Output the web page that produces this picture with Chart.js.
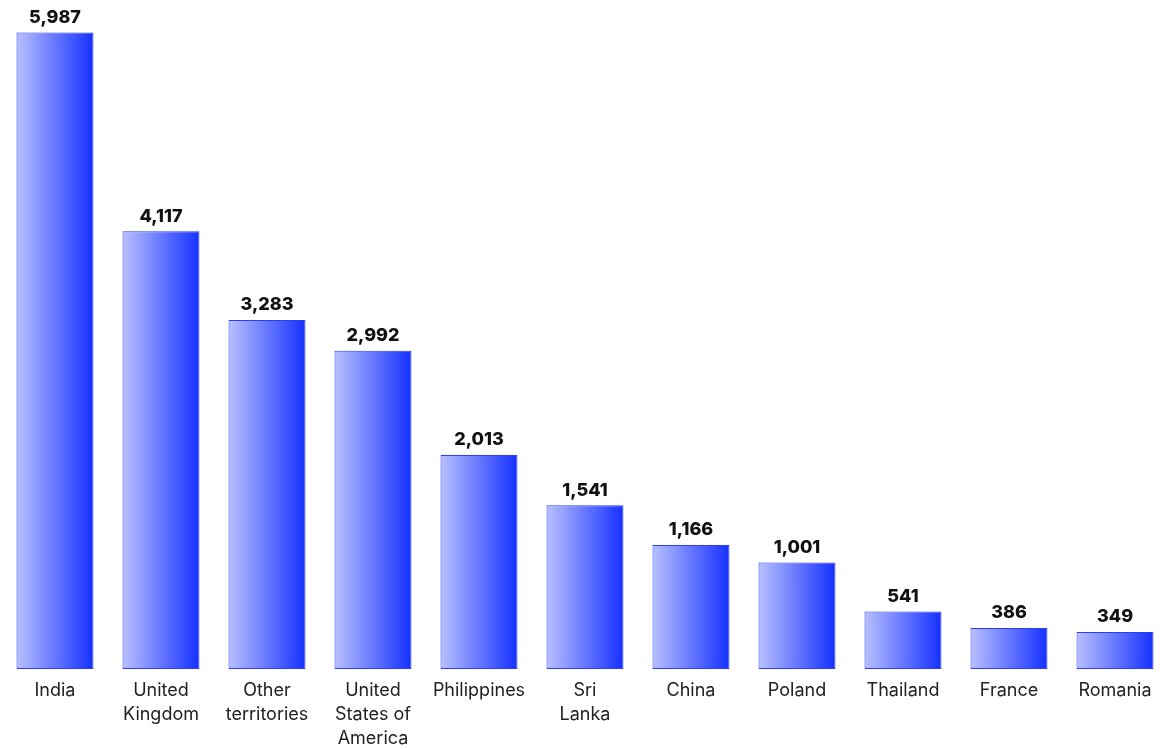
<!DOCTYPE html>
<html>
<head>
<meta charset="utf-8">
<script src="https://cdn.jsdelivr.net/npm/chart.js@4"></script>
<style>
  body { margin: 0; background: #fff; }
  #wrap { width: 1169px; height: 749px; }
</style>
</head>
<body>
<div id="wrap"><canvas id="chart"></canvas></div>
<script>
// Countries (multi-line tick labels)
const countries = [
    ['India'],
    ['United', 'Kingdom'],
    ['Other', 'territories'],
    ['United', 'States of', 'America'],
    ['Philippines'],
    ['Sri', 'Lanka'],
    ['China'],
    ['Poland'],
    ['Thailand'],
    ['France'],
    ['Romania']
];
const counts = [5987, 4117, 3283, 2992, 2013, 1541, 1166, 1001, 541, 386, 349];

const BAR_PCT = 0.726;

// Horizontal gradient per bar
function barGradient(context) {
    const chart = context.chart;
    const xs = chart.scales.x;
    if (!xs || !chart.chartArea) return '#4a5cff';
    const step = xs.width / countries.length;
    const center = xs.getPixelForValue(context.dataIndex);
    const half = step * BAR_PCT / 2;
    const g = chart.ctx.createLinearGradient(center - half, 0, center + half, 0);
    g.addColorStop(0, '#b8c0ff');
    g.addColorStop(1, '#1530ff');
    return g;
}

// Value labels above bars
const valueLabels = {
    id: 'valueLabels',
    afterDatasetsDraw(chart) {
        const ctx = chart.ctx;
        const meta = chart.getDatasetMeta(0);
        ctx.save();
        ctx.font = '800 18px Inter, "DejaVu Sans", sans-serif';
        ctx.fillStyle = '#111';
        ctx.textAlign = 'center';
        ctx.textBaseline = 'bottom';
        meta.data.forEach((bar, i) => {
            ctx.fillText(counts[i].toLocaleString('en-US'), bar.x, bar.y - 6);
        });
        ctx.restore();
    }
};

new Chart(document.getElementById('chart'), {
    type: 'bar',
    data: {
        labels: countries,
        datasets: [{
            data: counts,
            backgroundColor: barGradient,
            borderColor: '#2a3cff',
            borderWidth: 1,
            borderSkipped: false,
            barPercentage: BAR_PCT,
            categoryPercentage: 1
        }]
    },
    options: {
        responsive: true,
        maintainAspectRatio: false,
        animation: false,
        layout: { padding: { top: 31, left: 2, right: 1, bottom: 0 } },
        plugins: {
            legend: { display: false },
            tooltip: { enabled: false }
        },
        scales: {
            x: {
                grid: { display: false, drawTicks: false },
                border: { display: false },
                afterFit(scale) { scale.height = 80; },
                ticks: {
                    color: '#222',
                    padding: 10,
                    maxRotation: 0,
                    autoSkip: false,
                    font: { family: 'Inter, "DejaVu Sans", sans-serif', size: 18, lineHeight: 1.33 }
                }
            },
            y: {
                display: false,
                min: 0,
                max: 6000
            }
        }
    },
    plugins: [valueLabels]
});
</script>
</body>
</html>
